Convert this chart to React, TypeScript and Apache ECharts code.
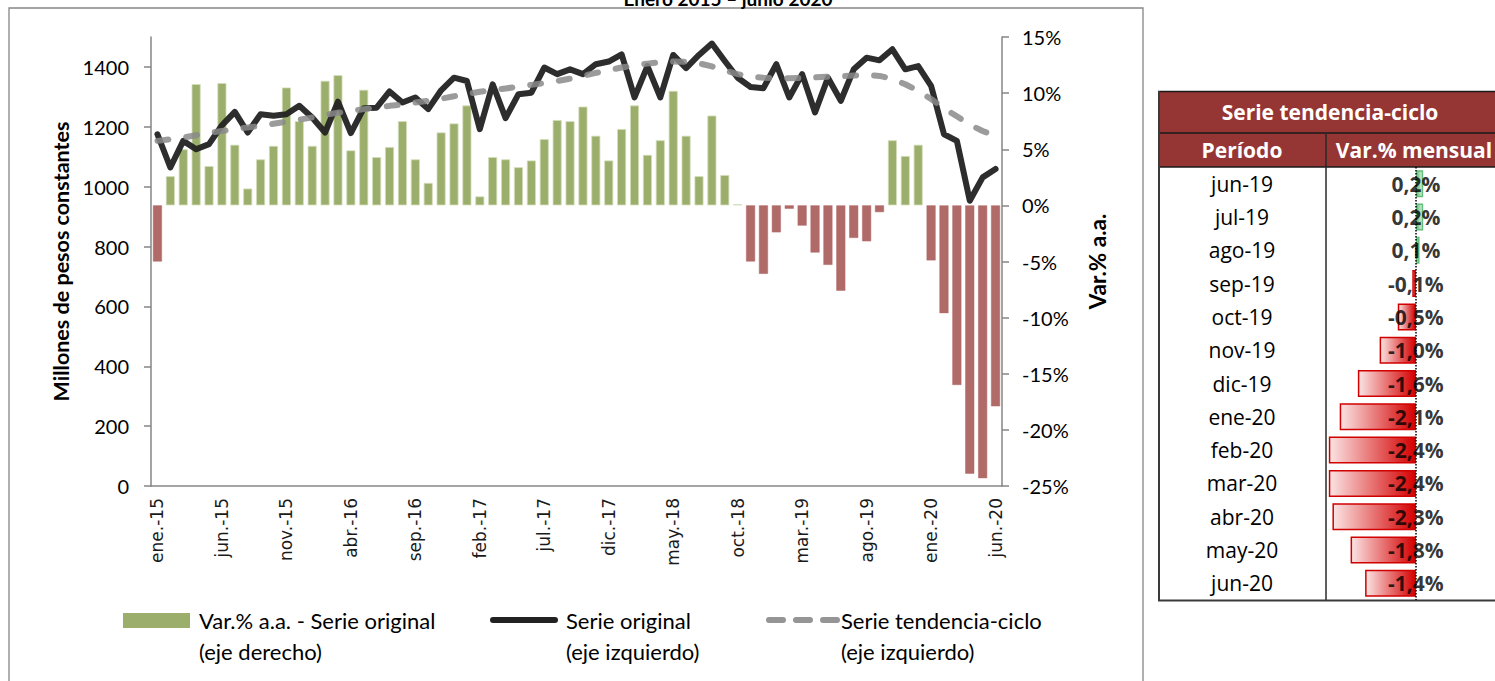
import React, { useEffect, useRef } from "react";
import * as echarts from "echarts";

const categories = [
  "ene.-15", "feb.-15", "mar.-15", "abr.-15", "may.-15", "jun.-15", "jul.-15", "ago.-15", "sep.-15", "oct.-15", "nov.-15", "dic.-15",
  "ene.-16", "feb.-16", "mar.-16", "abr.-16", "may.-16", "jun.-16", "jul.-16", "ago.-16", "sep.-16", "oct.-16", "nov.-16", "dic.-16",
  "ene.-17", "feb.-17", "mar.-17", "abr.-17", "may.-17", "jun.-17", "jul.-17", "ago.-17", "sep.-17", "oct.-17", "nov.-17", "dic.-17",
  "ene.-18", "feb.-18", "mar.-18", "abr.-18", "may.-18", "jun.-18", "jul.-18", "ago.-18", "sep.-18", "oct.-18", "nov.-18", "dic.-18",
  "ene.-19", "feb.-19", "mar.-19", "abr.-19", "may.-19", "jun.-19", "jul.-19", "ago.-19", "sep.-19", "oct.-19", "nov.-19", "dic.-19",
  "ene.-20", "feb.-20", "mar.-20", "abr.-20", "may.-20", "jun.-20",
];

// Var.% a.a. - Serie original (eje derecho)
const varAA = [
  -5.0, 2.6, 5.0, 10.8, 3.5, 10.9, 5.4, 1.5, 4.1, 5.3, 10.5, 7.5,
  5.3, 11.1, 11.6, 4.9, 10.3, 4.3, 5.2, 7.5, 4.1, 2.0, 6.5, 7.3,
  8.9, 0.8, 4.3, 4.1, 3.4, 4.0, 5.9, 7.6, 7.5, 8.8, 6.2, 4.0,
  6.8, 8.9, 4.5, 5.8, 10.2, 6.2, 2.6, 8.0, 2.7, 0.1, -5.0, -6.1,
  -2.4, -0.3, -1.8, -4.2, -5.3, -7.6, -2.9, -3.2, -0.6, 5.8, 4.4, 5.4,
  -4.9, -9.6, -16.0, -23.9, -24.3, -17.9,
];

// Serie original (eje izquierdo)
const serieOriginal = [
  1175, 1064, 1153, 1125, 1142, 1205, 1250, 1181, 1242, 1237, 1242, 1270,
  1231, 1181, 1284, 1179, 1262, 1264, 1318, 1281, 1298, 1259, 1322, 1364,
  1353, 1192, 1342, 1229, 1309, 1314, 1398, 1376, 1392, 1376, 1409, 1418,
  1442, 1298, 1403, 1298, 1440, 1396, 1440, 1478, 1420, 1364, 1333, 1329,
  1409, 1298, 1376, 1248, 1364, 1287, 1392, 1431, 1422, 1459, 1392, 1403,
  1337, 1175, 1153, 953, 1031, 1059,
];

// Serie tendencia-ciclo (eje izquierdo)
const serieTendencia = [
  1153, 1158, 1164, 1172, 1180, 1186, 1192, 1198, 1203, 1210, 1217, 1224,
  1231, 1240, 1247, 1253, 1259, 1264, 1270, 1275, 1281, 1287, 1294, 1302,
  1310, 1317, 1322, 1328, 1334, 1340, 1346, 1353, 1361, 1370, 1380, 1389,
  1398, 1405, 1411, 1416, 1418, 1417, 1412, 1402, 1388, 1376, 1368, 1364,
  1362, 1362, 1363, 1365, 1367, 1369, 1371, 1373, 1370, 1360, 1342, 1320,
  1293, 1262, 1235, 1207, 1186, 1170,
];

const leftTicks = [0, 200, 400, 600, 800, 1000, 1200, 1400];

const tablePeriods = [
  "jun-19", "jul-19", "ago-19", "sep-19", "oct-19", "nov-19", "dic-19",
  "ene-20", "feb-20", "mar-20", "abr-20", "may-20", "jun-20",
];
const tableVar = [0.2, 0.2, 0.1, -0.1, -0.5, -1.0, -1.6, -2.1, -2.4, -2.4, -2.3, -1.8, -1.4];

const fmtPct = (v: number) => v.toFixed(1).replace(".", ",") + "%";

const AXIS_GRAY = "#868686";
const GREEN = "#9bae6b";
const RED = "#b06a68";
const CAL = "Lato, 'Noto Sans', sans-serif";
const TBL = "'Open Sans', 'Noto Sans', sans-serif";

function buildOption(): any {
  const negFill = () =>
    new echarts.graphic.LinearGradient(0, 0, 1, 0, [
      { offset: 0, color: "#fbe4e4" },
      { offset: 1, color: "#d40000" },
    ]);
  const posFill = () =>
    new echarts.graphic.LinearGradient(0, 0, 1, 0, [
      { offset: 0, color: "#63be7b" },
      { offset: 1, color: "#e4f4e8" },
    ]);

  const legendFont = "22px Lato";

  return {
    animation: false,
    backgroundColor: "#ffffff",
    grid: [
      { left: 151, top: 37, width: 851, height: 449 },
      { left: 1327, top: 167, width: 161.5, height: 433 },
    ],
    xAxis: [
      {
        type: "category",
        gridIndex: 0,
        data: categories,
        boundaryGap: true,
        axisLine: { onZero: false, lineStyle: { color: AXIS_GRAY, width: 1.5 } },
        axisTick: { interval: 4, length: 7, lineStyle: { color: AXIS_GRAY, width: 1.5 } },
        axisLabel: {
          interval: 4,
          rotate: 90,
          margin: 12,
          fontFamily: "'DejaVu Sans', sans-serif",
          fontSize: 17,
          color: "#1a1a1a",
        },
        splitLine: { show: false },
      },
      {
        type: "value",
        gridIndex: 1,
        min: -2.45,
        max: 2.0,
        show: false,
        splitLine: { show: false },
      },
    ],
    yAxis: [
      {
        type: "value",
        gridIndex: 0,
        position: "left",
        min: 0,
        max: 1500,
        name: "Millones de pesos constantes",
        nameLocation: "middle",
        nameGap: 76,
        nameTextStyle: { fontFamily: CAL, fontWeight: "bold", fontSize: 21.5, color: "#000" },
        axisLine: { show: true, lineStyle: { color: AXIS_GRAY, width: 1.5 } },
        axisTick: { show: true, customValues: leftTicks, length: 7, lineStyle: { color: AXIS_GRAY, width: 1.5 } },
        axisLabel: {
          customValues: leftTicks,
          margin: 22,
          fontFamily: CAL,
          fontSize: 20,
          color: "#000",
          formatter: (v: number) => String(v),
        },
        splitLine: { show: false },
      },
      {
        type: "value",
        gridIndex: 0,
        position: "right",
        min: -25,
        max: 15,
        interval: 5,
        name: "Var.% a.a.",
        nameLocation: "middle",
        nameGap: 84,
        nameTextStyle: { fontFamily: CAL, fontWeight: "bold", fontSize: 22.5, color: "#000" },
        axisLine: { show: true, lineStyle: { color: AXIS_GRAY, width: 1.5 } },
        axisTick: { show: true, length: 7, lineStyle: { color: AXIS_GRAY, width: 1.5 } },
        axisLabel: {
          margin: 20,
          fontFamily: CAL,
          fontSize: 20,
          color: "#000",
          formatter: (v: number) => v + "%",
        },
        splitLine: { show: false },
      },
      {
        type: "category",
        gridIndex: 1,
        data: tablePeriods,
        inverse: true,
        axisLine: { show: false },
        axisTick: { show: false },
        axisLabel: { margin: 85, align: "center", fontFamily: TBL, fontSize: 21, color: "#000" },
        splitLine: { show: false },
      },
    ],
    series: [
      {
        name: "Var.% a.a. - Serie original",
        type: "bar",
        xAxisIndex: 0,
        yAxisIndex: 1,
        barWidth: 9,
        z: 2,
        data: varAA.map((v) => ({
          value: v,
          itemStyle:
            v >= 0
              ? { color: GREEN, borderColor: "#d3ddba", borderWidth: 0.8 }
              : { color: RED, borderColor: RED, borderWidth: 0.5 },
        })),
      },
      {
        name: "Serie original",
        type: "line",
        xAxisIndex: 0,
        yAxisIndex: 0,
        data: serieOriginal,
        symbol: "none",
        z: 3,
        lineStyle: { color: "#222222", width: 6, opacity: 0.95, join: "round", cap: "round" },
      },
      {
        name: "Serie tendencia-ciclo",
        type: "line",
        xAxisIndex: 0,
        yAxisIndex: 0,
        data: serieTendencia,
        symbol: "none",
        z: 4,
        lineStyle: { color: "#8a8a8a", width: 6, opacity: 0.85, type: [11, 18], cap: "round", join: "round" },
      },
      {
        name: "tabla",
        type: "bar",
        xAxisIndex: 1,
        yAxisIndex: 2,
        barWidth: 27,
        z: 2,
        data: tableVar.map((v) => ({
          value: v,
          itemStyle: {
            color: v < 0 ? negFill() : posFill(),
            borderColor: v < 0 ? "#d00000" : "#63be7b",
            borderWidth: 1.5,
          },
        })),
        markLine: {
          silent: true,
          symbol: ["none", "none"],
          label: { show: false },
          lineStyle: { color: "#000", type: "dotted", width: 1.5 },
          data: [{ xAxis: 0 }],
        },
      },
      {
        name: "tabla-valores",
        type: "scatter",
        xAxisIndex: 1,
        yAxisIndex: 2,
        symbolSize: 2,
        itemStyle: { color: "rgba(0,0,0,0)" },
        z: 6,
        data: tablePeriods.map((p) => [0, p]),
        label: {
          show: true,
          position: "inside",
          formatter: (p: any) => fmtPct(tableVar[p.dataIndex]),
          fontFamily: TBL,
          fontWeight: "bold",
          fontSize: 21,
          color: "#000",
        },
      },
    ],
    graphic: [
      {
        type: "rect",
        silent: true,
        z: 0,
        shape: { x: 9, y: 8, width: 1134, height: 720 },
        style: { fill: "none", stroke: AXIS_GRAY, lineWidth: 1.3 },
      },
      {
        type: "text",
        silent: true,
        x: 728,
        y: 8,
        style: {
          text: "Enero 2015 – junio 2020",
          font: "bold 19px Lato",
          fill: "#000",
          textAlign: "center",
          textVerticalAlign: "bottom",
        },
      },
      // legend
      { type: "rect", silent: true, shape: { x: 123, y: 613, width: 67, height: 15 }, style: { fill: GREEN } },
      { type: "text", silent: true, x: 199, y: 620, style: { text: "Var.% a.a. - Serie original", font: legendFont, fill: "#000", textVerticalAlign: "middle" } },
      { type: "text", silent: true, x: 199, y: 651, style: { text: "(eje derecho)", font: legendFont, fill: "#000", textVerticalAlign: "middle" } },
      { type: "line", silent: true, shape: { x1: 493, y1: 620, x2: 555, y2: 620 }, style: { stroke: "#222222", lineWidth: 6, lineCap: "round" } },
      { type: "text", silent: true, x: 566, y: 620, style: { text: "Serie original", font: legendFont, fill: "#000", textVerticalAlign: "middle" } },
      { type: "text", silent: true, x: 566, y: 651, style: { text: "(eje izquierdo)", font: legendFont, fill: "#000", textVerticalAlign: "middle" } },
      { type: "line", silent: true, shape: { x1: 769, y1: 620, x2: 837, y2: 620 }, style: { stroke: "#8a8a8a", opacity: 0.9, lineWidth: 6, lineCap: "round", lineDash: [14, 13] } },
      { type: "text", silent: true, x: 841, y: 620, style: { text: "Serie tendencia-ciclo", font: legendFont, fill: "#000", textVerticalAlign: "middle" } },
      { type: "text", silent: true, x: 841, y: 651, style: { text: "(eje izquierdo)", font: legendFont, fill: "#000", textVerticalAlign: "middle" } },
      // table header
      { type: "rect", silent: true, shape: { x: 1158, y: 91, width: 340, height: 42 }, style: { fill: "#963634" } },
      { type: "rect", silent: true, shape: { x: 1158, y: 133, width: 340, height: 34 }, style: { fill: "#963634" } },
      { type: "text", silent: true, x: 1330, y: 112, style: { text: "Serie tendencia-ciclo", font: "bold 21px 'Open Sans'", fill: "#fff", textAlign: "center", textVerticalAlign: "middle" } },
      { type: "text", silent: true, x: 1242, y: 150, style: { text: "Período", font: "bold 21px 'Open Sans'", fill: "#fff", textAlign: "center", textVerticalAlign: "middle" } },
      { type: "text", silent: true, x: 1414, y: 150, style: { text: "Var.% mensual", font: "bold 21px 'Open Sans'", fill: "#fff", textAlign: "center", textVerticalAlign: "middle" } },
      // table borders
      { type: "line", silent: true, shape: { x1: 1158, y1: 91.5, x2: 1495, y2: 91.5 }, style: { stroke: "#1a1a1a", lineWidth: 1.5 } },
      { type: "line", silent: true, shape: { x1: 1158, y1: 133, x2: 1495, y2: 133 }, style: { stroke: "#1a1a1a", lineWidth: 1.5 } },
      { type: "line", silent: true, shape: { x1: 1158, y1: 167, x2: 1495, y2: 167 }, style: { stroke: "#1a1a1a", lineWidth: 1.5 } },
      { type: "line", silent: true, shape: { x1: 1159, y1: 91, x2: 1159, y2: 601 }, style: { stroke: "#3a3a3a", lineWidth: 2 } },
      { type: "line", silent: true, shape: { x1: 1326, y1: 133, x2: 1326, y2: 601 }, style: { stroke: "#2a2a2a", lineWidth: 1.5 } },
      { type: "line", silent: true, shape: { x1: 1158, y1: 600.5, x2: 1495, y2: 600.5 }, style: { stroke: "#3a3a3a", lineWidth: 2 } },
    ],
  };
}

export default function App() {
  const ref = useRef<HTMLDivElement>(null);
  useEffect(() => {
    document.body.style.margin = "0";
    if (!ref.current) return;
    const chart = echarts.init(ref.current, null, { renderer: "svg" });
    chart.setOption(buildOption());
    return () => {
      chart.dispose();
    };
  }, []);
  return <div ref={ref} style={{ width: 1495, height: 681 }} />;
}
